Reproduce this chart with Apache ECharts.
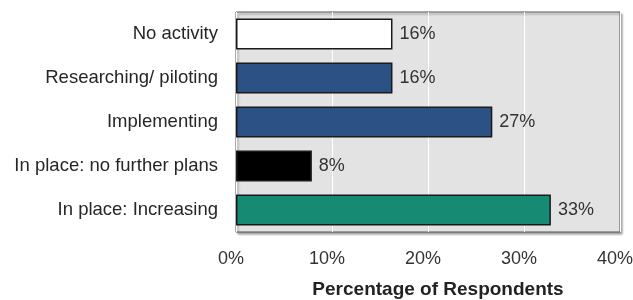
<!DOCTYPE html>
<html>
<head>
<meta charset="utf-8">
<script src="https://cdn.jsdelivr.net/npm/echarts@6/dist/echarts.min.js"></script>
<style>
  html, body { margin: 0; padding: 0; background: #fff; }
  #chart { width: 633px; height: 300px; }
</style>
</head>
<body>
<div id="chart"></div>
<script>
// categories top to bottom
const categories = ['No activity', 'Researching/ piloting', 'Implementing', 'In place: no further plans', 'In place: Increasing'];
// percent of respondents
const values = [16.3, 16.3, 26.7, 7.9, 32.8];
// labels printed next to the bars
const valueLabels = ['16%', '16%', '27%', '8%', '33%'];
const barColors = ['#ffffff', '#2c5185', '#2c5185', '#000000', '#178a74'];
const xTicks = [0, 10, 20, 30, 40];

const myChart = echarts.init(document.getElementById('chart'));

const option = {
  animation: false,
  textStyle: { fontFamily: '"Liberation Sans", Arial, sans-serif' },
  grid: {
    left: 236, right: 13, top: 12, bottom: 68,
    outerBoundsMode: 'none',
    show: true,
    backgroundColor: '#e3e3e3',
    borderColor: '#555555',
    borderWidth: 1,
    shadowColor: 'rgba(0,0,0,0.35)',
    shadowOffsetX: 2,
    shadowOffsetY: 2,
    shadowBlur: 2
  },
  xAxis: {
    type: 'value',
    min: xTicks[0],
    max: xTicks[xTicks.length - 1],
    interval: 10,
    name: 'Percentage of Respondents',
    nameLocation: 'middle',
    nameGap: 48,
    nameTextStyle: { fontSize: 19, fontWeight: 'bold', color: '#222', padding: [0, 0, 0, 20] },
    axisLine: { show: false },
    axisTick: { show: false },
    axisLabel: {
      formatter: '{value}%', fontSize: 18, color: '#333', margin: 18,
      padding: [0, 10, 0, 0]
    },
    splitLine: { show: true, lineStyle: { color: '#ffffff', width: 1 } }
  },
  yAxis: {
    type: 'category',
    inverse: true,
    data: categories,
    axisLine: { show: false },
    axisTick: { show: false },
    axisLabel: { fontSize: 18.5, color: '#262626', margin: 18 }
  },
  series: [
    {
      type: 'bar',
      barWidth: 31,
      data: values.map((v, i) => ({ value: v, itemStyle: { color: barColors[i] } })),
      itemStyle: { borderColor: '#1a1a1a', borderWidth: 1.5 },
      label: {
        show: true,
        position: 'right',
        distance: 7,
        fontSize: 18,
        color: '#333',
        formatter: p => valueLabels[p.dataIndex]
      }
    }
  ]
};

myChart.setOption(option);
</script>
</body>
</html>
